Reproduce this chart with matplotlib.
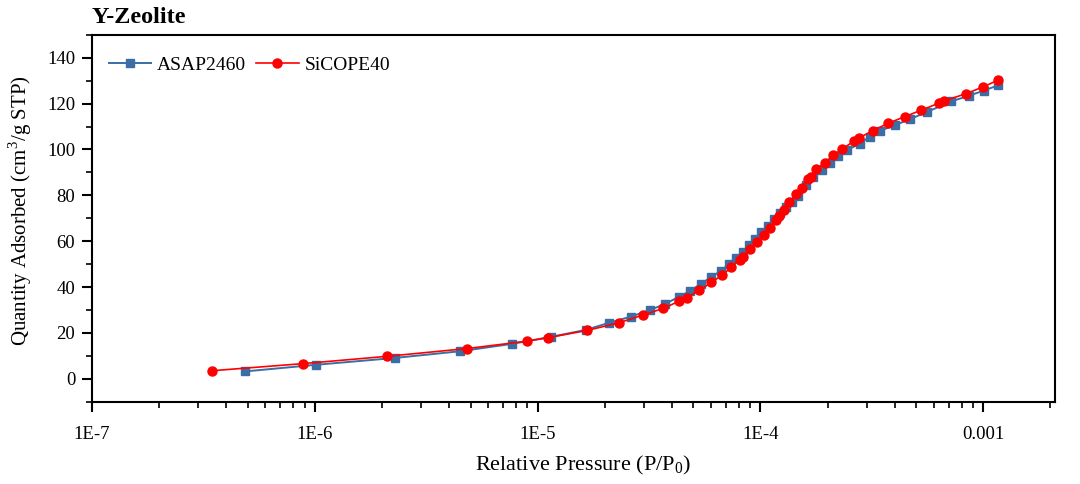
import numpy as np
import matplotlib
matplotlib.use('Agg')
import matplotlib.pyplot as plt
from matplotlib.ticker import FixedLocator, FixedFormatter, LogLocator, MultipleLocator, NullFormatter

# ================= DATA =================
asap_p = [4.85e-7, 1.01e-6, 2.29e-6, 4.48e-6, 7.64e-6, 1.15e-5, 1.64e-5, 2.09e-5,
          2.62e-5, 3.18e-5, 3.72e-5, 4.32e-5, 4.84e-5, 5.43e-5, 6.03e-5, 6.68e-5,
          7.21e-5, 7.75e-5, 8.34e-5, 8.89e-5, 9.42e-5, 1.01e-4, 1.08e-4, 1.15e-4,
          1.22e-4, 1.30e-4, 1.38e-4, 1.48e-4, 1.60e-4, 1.73e-4, 1.88e-4, 2.05e-4,
          2.23e-4, 2.44e-4, 2.79e-4, 3.09e-4, 3.43e-4, 4.01e-4, 4.68e-4, 5.60e-4,
          7.19e-4, 8.61e-4, 1.005e-3, 1.17e-3]
asap_q = [3.2, 6.1, 9.1, 12.0, 15.2, 18.3, 21.3, 24.4,
          27.1, 29.9, 32.6, 35.8, 38.4, 41.5, 44.5, 47.2,
          50.0, 52.7, 55.3, 58.4, 61.0, 64.1, 66.7, 69.5,
          72.4, 75.0, 77.1, 79.7, 84.7, 88.2, 91.0, 94.3,
          97.3, 99.7, 102.5, 105.6, 108.1, 110.6, 113.2, 116.4,
          121.0, 123.4, 125.7, 128.0]

sicope_p = [3.44e-7, 8.81e-7, 2.11e-6, 4.83e-6, 8.97e-6, 1.11e-5, 1.67e-5, 2.31e-5,
            2.97e-5, 3.66e-5, 4.33e-5, 4.66e-5, 5.31e-5, 6.03e-5, 6.73e-5, 7.41e-5,
            8.07e-5, 8.36e-5, 8.95e-5, 9.66e-5, 1.04e-4, 1.10e-4, 1.17e-4, 1.21e-4,
            1.27e-4, 1.35e-4, 1.44e-4, 1.53e-4, 1.64e-4, 1.68e-4, 1.78e-4, 1.95e-4,
            2.12e-4, 2.33e-4, 2.63e-4, 2.77e-4, 3.20e-4, 3.73e-4, 4.44e-4, 5.28e-4,
            6.32e-4, 6.68e-4, 8.34e-4, 9.93e-4, 1.17e-3]
sicope_q = [3.5, 6.6, 9.8, 13.2, 16.4, 17.9, 21.1, 24.4,
            27.8, 30.7, 33.9, 35.3, 38.6, 42.0, 45.3, 48.6,
            52.0, 53.2, 56.5, 59.7, 62.7, 65.8, 69.1, 70.8,
            73.5, 77.0, 80.4, 83.4, 87.0, 88.1, 91.4, 94.3,
            97.5, 100.2, 103.7, 105.1, 108.2, 111.4, 114.3, 117.2,
            120.2, 121.2, 124.3, 127.2, 130.3]

x_ticks = [1e-7, 1e-6, 1e-5, 1e-4, 1e-3]
x_tick_labels = ['1E-7', '1E-6', '1E-5', '1E-4', '0.001']
y_ticks = [0, 20, 40, 60, 80, 100, 120, 140]

# ================= STYLE =================
plt.rcParams['font.family'] = 'serif'
plt.rcParams['font.serif'] = ['Liberation Serif', 'DejaVu Serif']
plt.rcParams['mathtext.fontset'] = 'custom'
plt.rcParams['mathtext.rm'] = 'Liberation Serif'

BLUE = '#3A6EA5'
RED = '#FF0000'

fig = plt.figure(figsize=(10.8, 4.84), dpi=100)
ax = fig.add_axes([0.0852, 0.170, 0.8917, 0.758])

ax.plot(asap_p, asap_q, color=BLUE, lw=1.4, marker='s', ms=5.5,
        mec=BLUE, mfc=BLUE, label='ASAP2460', zorder=3)
ax.plot(sicope_p, sicope_q, color=RED, lw=1.2, marker='o', ms=6.5,
        mec=RED, mfc=RED, label='SiCOPE40', zorder=4)

ax.set_xscale('log')
ax.set_xlim(1e-7, 2.1e-3)
ax.set_ylim(-10, 150)

ax.xaxis.set_major_locator(FixedLocator(x_ticks))
ax.xaxis.set_major_formatter(FixedFormatter(x_tick_labels))
ax.xaxis.set_minor_locator(LogLocator(base=10, subs=np.arange(2, 10)))
ax.xaxis.set_minor_formatter(NullFormatter())
ax.set_yticks(y_ticks)
ax.yaxis.set_minor_locator(MultipleLocator(10))

ax.tick_params(which='major', direction='out', length=7, width=1.5, labelsize=13.5,
               top=False, right=False)
ax.tick_params(axis='y', which='major', pad=5)
ax.tick_params(axis='x', which='major', pad=10.5)
ax.tick_params(which='minor', direction='out', length=4, width=1.2, top=False, right=False)
for s in ax.spines.values():
    s.set_linewidth(1.5)

ax.set_xlabel('Relative Pressure (P/P$_0$)', fontsize=16)
ax.set_ylabel('Quantity Adsorbed (cm$^3$/g STP)', fontsize=15)
ax.xaxis.set_label_coords(0.51, -0.142)
ax.yaxis.set_label_coords(-0.060, 0.52)

ax.legend(loc='upper left', ncol=2, frameon=False, fontsize=14,
          handlelength=2.2, handletextpad=0.3, columnspacing=0.5,
          borderaxespad=0.7, bbox_to_anchor=(-0.005, 1.0))

fig.text(0.0852, 0.963, 'Y-Zeolite', fontsize=17.5, fontweight='bold',
         ha='left', va='center')

fig.savefig('out.png', dpi=100)
